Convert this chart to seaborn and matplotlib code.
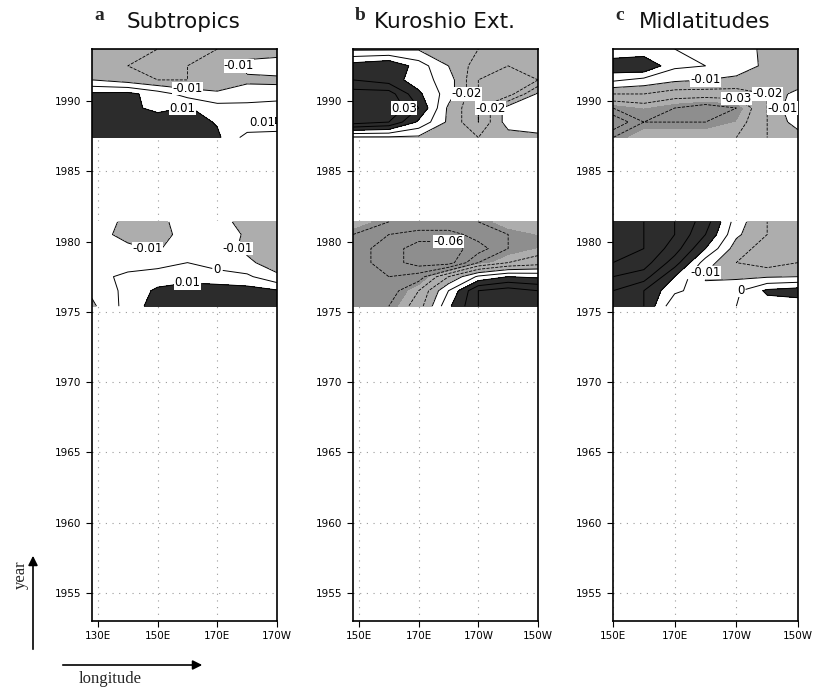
import numpy as np
import matplotlib
matplotlib.use("Agg")
import matplotlib.pyplot as plt
import seaborn as sns

sns.set_style("white")
plt.rcParams['font.family'] = ['DejaVu Sans']

# grid longitudes (deg E, 190 = 170W) for each panel
LON_SUB = [128, 140, 150, 160, 170, 180, 190]
LON_KUR = [148, 160, 170, 180, 190, 200, 210]
LON_MID = [150, 160, 170, 180, 190, 200, 210]

# years of the grid rows (two bands of data)
YEARS_LATE = [1987.4, 1988.5, 1989.5, 1990.5, 1991.5, 1992.5, 1993.7]
YEARS_EARLY = [1975.4, 1976.5, 1977.5, 1978.5, 1979.5, 1980.5, 1981.4]

# values, rows = years (ascending), cols = longitudes
SUB_LATE = [
    [0.020, 0.020, 0.020, 0.018, 0.012, -0.004, -0.008],
    [0.020, 0.020, 0.020, 0.015, 0.009, 0.008, 0.012],
    [0.015, 0.015, 0.005, 0.011, 0.004, 0.003, 0.006],
    [0.012, 0.013, 0.005, -0.004, -0.008, -0.005, -0.006],
    [-0.010, -0.015, -0.020, -0.020, -0.018, -0.012, -0.012],
    [-0.015, -0.020, -0.020, -0.020, -0.018, -0.007, -0.005],
    [-0.012, -0.015, -0.020, -0.020, -0.020, -0.015, -0.015],
]
SUB_EARLY = [
    [-0.012, 0.004, 0.015, 0.020, 0.020, 0.020, 0.018],
    [-0.008, 0.003, 0.012, 0.015, 0.015, 0.014, 0.011],
    [-0.003, 0.002, 0.004, 0.006, 0.004, 0.002, -0.008],
    [-0.002, -0.004, -0.003, 0.000, -0.004, -0.008, -0.015],
    [-0.004, -0.008, -0.011, -0.004, -0.006, -0.012, -0.013],
    [-0.006, -0.013, -0.012, -0.008, -0.006, -0.011, -0.013],
    [-0.005, -0.012, -0.013, -0.005, -0.008, -0.012, -0.012],
]
KUR_LATE = [
    [-0.012, -0.012, -0.012, -0.015, -0.020, -0.015, -0.012],
    [0.035, 0.030, 0.008, -0.012, -0.030, -0.005, -0.005],
    [0.040, 0.040, 0.020, -0.012, -0.030, -0.005, 0.000],
    [0.035, 0.035, 0.012, -0.005, -0.030, -0.035, -0.008],
    [0.020, 0.015, 0.005, -0.005, -0.030, -0.035, -0.030],
    [0.015, 0.020, 0.005, -0.010, -0.025, -0.030, -0.025],
    [-0.012, -0.012, -0.011, -0.015, -0.020, -0.025, -0.020],
]
KUR_EARLY = [
    [-0.040, -0.040, -0.025, 0.008, 0.030, 0.035, 0.030],
    [-0.040, -0.045, -0.030, 0.000, 0.030, 0.035, 0.030],
    [-0.040, -0.050, -0.045, -0.020, 0.002, 0.010, 0.008],
    [-0.045, -0.055, -0.065, -0.065, -0.040, -0.030, -0.025],
    [-0.045, -0.055, -0.065, -0.065, -0.055, -0.040, -0.035],
    [-0.040, -0.050, -0.055, -0.055, -0.045, -0.040, -0.035],
    [-0.030, -0.040, -0.040, -0.040, -0.040, -0.030, -0.030],
]
MID_LATE = [
    [-0.040, -0.030, -0.030, -0.030, -0.030, -0.020, -0.015],
    [-0.060, -0.040, -0.040, -0.040, -0.035, -0.020, -0.005],
    [-0.040, -0.035, -0.040, -0.045, -0.040, -0.020, 0.000],
    [-0.020, -0.020, -0.025, -0.025, -0.025, -0.020, -0.005],
    [0.002, -0.003, -0.008, -0.010, -0.012, -0.015, -0.020],
    [0.018, 0.020, 0.002, 0.000, -0.005, -0.012, -0.015],
    [0.000, 0.002, 0.000, -0.003, -0.006, -0.012, -0.015],
]
MID_EARLY = [
    [0.030, 0.020, -0.008, -0.003, 0.000, 0.005, 0.004],
    [0.030, 0.020, 0.002, -0.005, -0.002, 0.012, 0.015],
    [0.040, 0.035, 0.010, -0.012, -0.012, -0.011, -0.010],
    [0.050, 0.045, 0.025, -0.005, -0.020, -0.025, -0.020],
    [0.060, 0.050, 0.035, 0.010, -0.015, -0.025, -0.025],
    [0.060, 0.050, 0.040, 0.020, -0.008, -0.020, -0.025],
    [0.060, 0.050, 0.040, 0.025, -0.005, -0.020, -0.020],
]

TITLES = ["Subtropics", "Kuroshio Ext.", "Midlatitudes"]
LETTERS = ["a", "b", "c"]
XTICKS_SUB = [130, 150, 170, 190]
XLABELS_SUB = ["130E", "150E", "170E", "170W"]
XTICKS_PAC = [150, 170, 190, 210]
XLABELS_PAC = ["150E", "170E", "170W", "150W"]
YTICKS = [1955, 1960, 1965, 1970, 1975, 1980, 1985, 1990]

FILL_LEVELS = [-1, -0.035, -0.01, 0.01, 1]
FILL_COLORS = ['#8e8e8e', '#adadad', 'white', '#2c2c2c']
SOLID_LEVELS = [-0.01, 0, 0.01, 0.02, 0.03, 0.04, 0.05, 0.06]
DASH_LEVELS = [-0.06, -0.05, -0.04, -0.03, -0.02]

W, H = 823, 687


def fmt(v):
    return '0' if abs(v) < 1e-9 else f'{v:g}'


def plot_panel(ax, lons, bands, xlim, xticks, xlabels):
    texts = []
    for years, vals, lab_levels in bands:
        z = np.array(vals)
        ax.contourf(lons, years, z, levels=FILL_LEVELS, colors=FILL_COLORS)
        cs = ax.contour(lons, years, z, levels=SOLID_LEVELS, colors='k',
                        linewidths=0.7, linestyles='solid')
        cd = ax.contour(lons, years, z, levels=DASH_LEVELS, colors='k',
                        linewidths=0.6, linestyles='dashed')
        for c in (cs, cd):
            lv = [l for l in c.levels if any(abs(l - x) < 1e-9 for x in lab_levels)]
            if lv:
                texts += ax.clabel(c, levels=lv, fmt=fmt, fontsize=8.5, inline=True,
                                   inline_spacing=2)
    for t in texts:
        t.set_rotation(0)
        t.set_bbox(dict(facecolor='white', edgecolor='none', pad=0.2))
    ax.set_xlim(xlim)
    ax.set_ylim(1953, 1993.7)
    ax.set_xticks(xticks)
    ax.set_xticklabels(xlabels)
    ax.set_yticks(YTICKS)
    ax.set_axisbelow(True)
    ax.grid(True, color='#9a9a9a', linestyle=(0, (1, 5)), linewidth=0.8)
    ax.tick_params(axis='both', direction='out', length=4, width=0.8,
                   labelsize=7.5, colors='k', left=True, bottom=True)
    for s in ax.spines.values():
        s.set_color('k')
        s.set_linewidth(1.2)
    return texts


fig = plt.figure(figsize=(W / 100, H / 100), dpi=100)

panels = [
    (92, LON_SUB, [(YEARS_LATE, SUB_LATE, [-0.01, 0.01]),
                   (YEARS_EARLY, SUB_EARLY, [-0.01, 0, 0.01])],
     (128, 190), XTICKS_SUB, XLABELS_SUB),
    (353, LON_KUR, [(YEARS_LATE, KUR_LATE, [0.03, -0.02]),
                    (YEARS_EARLY, KUR_EARLY, [-0.06])],
     (148, 210), XTICKS_PAC, XLABELS_PAC),
    (613, LON_MID, [(YEARS_LATE, MID_LATE, [-0.01, -0.02, -0.03]),
                    (YEARS_EARLY, MID_EARLY, [-0.01, 0])],
     (150, 210), XTICKS_PAC, XLABELS_PAC),
]

all_labels = []
for i, (x0, lons, bands, xlim, xt, xl) in enumerate(panels):
    ax = fig.add_axes([x0 / W, 1 - 621 / H, 185 / W, 572 / H])
    all_labels.append(plot_panel(ax, lons, bands, xlim, xt, xl))
    fig.text((x0 + 92) / W, 1 - 22 / H, TITLES[i], ha='center', va='center',
             fontsize=15.5, color='#111111')
    fig.text((x0 + 2) / W, 1 - 15 / H, LETTERS[i], ha='left', va='center',
             fontsize=14, fontweight='bold', family=['Liberation Serif'])

# drop contour labels that collide with an earlier one in the same panel
fig.canvas.draw()
renderer = fig.canvas.get_renderer()
for texts in all_labels:
    kept = []
    for t in texts:
        bb = t.get_window_extent(renderer)
        if any(bb.overlaps(k) for k in kept):
            t.set_visible(False)
        else:
            kept.append(bb)

# axis direction arrows
fig.add_artist(matplotlib.patches.FancyArrowPatch(
    (33 / W, 1 - 652 / H), (33 / W, 1 - 553 / H), transform=fig.transFigure,
    arrowstyle='-|>', mutation_scale=14, color='k', lw=1.2))
fig.text(21 / W, 1 - 575 / H, 'year', rotation=90, ha='center', va='center',
         fontsize=12, family=['Liberation Serif'])
fig.add_artist(matplotlib.patches.FancyArrowPatch(
    (60 / W, 1 - 665 / H), (205 / W, 1 - 665 / H), transform=fig.transFigure,
    arrowstyle='-|>', mutation_scale=14, color='k', lw=1.2))
fig.text(110 / W, 1 - 679 / H, 'longitude', ha='center', va='center',
         fontsize=12, family=['Liberation Serif'])

fig.savefig('out.png', dpi=100)
